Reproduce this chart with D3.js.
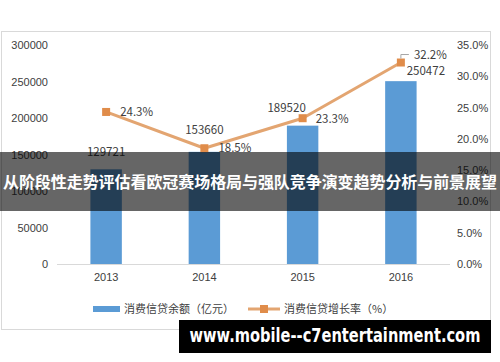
<!DOCTYPE html>
<html>
<head>
<meta charset="utf-8">
<script src="https://cdn.jsdelivr.net/npm/d3@7"></script>
<style>
  html, body { margin: 0; padding: 0; background: #fff; }
  svg { display: block; font-family: 'Noto Sans CJK SC', 'Noto Sans', sans-serif; }
</style>
</head>
<body>
<svg width="500" height="362"></svg>
<script>
const years = ['2013', '2014', '2015', '2016']
const balance = [129721, 153660, 189520, 250472]
const growth = [24.3, 18.5, 23.3, 32.2]
const leftTicks = [0, 50000, 100000, 150000, 200000, 250000, 300000]
const rightTicks = [0, 5, 10, 15, 20, 25, 30, 35]
const legendLabels = ['消费信贷余额（亿元）', '消费信贷增长率（%）']
const title = '从阶段性走势评估看欧冠赛场格局与强队竞争演变趋势分析与前景展望'
const watermark = 'www.mobile--c7entertainment.com'

const svg = d3.select('svg')

// outer chart frame
svg.append('rect')
  .attr('x', 1.5).attr('y', 31.5)
  .attr('width', 489).attr('height', 298)
  .attr('fill', '#fff')
  .attr('stroke', '#d9d9d9')

const x = d3.scaleBand().domain(years).range([57, 450]).paddingInner(0.68).paddingOuter(0.34)
const yL = d3.scaleLinear().domain([0, 300000]).range([264, 45])
const yR = d3.scaleLinear().domain([0, 35]).range([264, 45])

// left axis
svg.append('g')
  .attr('transform', 'translate(50,0)')
  .call(d3.axisLeft(yL).tickValues(leftTicks).tickSize(0).tickPadding(2).tickFormat(d3.format('d')))
  .call(g => g.select('.domain').remove())
  .selectAll('text').attr('font-size', 11).attr('fill', '#404040').attr('font-family', null)

// right axis
svg.append('g')
  .attr('transform', 'translate(455,0)')
  .call(d3.axisRight(yR).tickValues(rightTicks).tickSize(0).tickPadding(2).tickFormat(d => d.toFixed(1) + '%'))
  .call(g => g.select('.domain').remove())
  .selectAll('text').attr('font-size', 11).attr('fill', '#404040').attr('font-family', null)

// bars
svg.append('g').selectAll('rect')
  .data(balance)
  .join('rect')
  .attr('x', (d, i) => x(years[i]))
  .attr('y', d => yL(d))
  .attr('width', x.bandwidth())
  .attr('height', d => yL(0) - yL(d))
  .attr('fill', '#5b9bd5')

// baseline
svg.append('line')
  .attr('x1', 57).attr('x2', 450)
  .attr('y1', yL(0) + 0.5).attr('y2', yL(0) + 0.5)
  .attr('stroke', '#d9d9d9')

// x axis labels
svg.append('g')
  .attr('transform', `translate(0,${yL(0)})`)
  .call(d3.axisBottom(x).tickSize(0).tickPadding(9))
  .call(g => g.select('.domain').remove())
  .selectAll('text').attr('font-size', 11).attr('fill', '#404040').attr('font-family', null)

// growth line
const cx = (d, i) => x(years[i]) + x.bandwidth() / 2
const line = d3.line().x(cx).y(d => yR(d))
svg.append('path')
  .datum(growth)
  .attr('d', line)
  .attr('fill', 'none')
  .attr('stroke', '#e3a571')
  .attr('stroke-width', 3)
  .attr('stroke-linejoin', 'round')

svg.append('g').selectAll('rect')
  .data(growth)
  .join('rect')
  .attr('x', (d, i) => cx(d, i) - 4)
  .attr('y', d => yR(d) - 4)
  .attr('width', 8).attr('height', 8)
  .attr('fill', '#e08c4a')

// balance labels (offsets mimic Excel placement)
const balOffset = [[0, -13], [0, -18], [-16, -14], [25, -6]]
svg.append('g').selectAll('text')
  .data(balance)
  .join('text')
  .attr('x', (d, i) => cx(d, i) + balOffset[i][0])
  .attr('y', (d, i) => yL(d) + balOffset[i][1])
  .attr('text-anchor', 'middle')
  .attr('font-size', 11.5)
  .attr('fill', '#404040')
  .text(d => d)

// growth labels
const grOffset = [[14, 4], [14, 4], [13, 5], [13, -4]]
svg.append('g').selectAll('text')
  .data(growth)
  .join('text')
  .attr('x', (d, i) => cx(d, i) + grOffset[i][0])
  .attr('y', (d, i) => yR(d) + grOffset[i][1])
  .attr('font-size', 11.5)
  .attr('fill', '#404040')
  .text(d => d.toFixed(1) + '%')

// leader line for last label
svg.append('path')
  .attr('d', `M${cx(0, 3)},${yR(growth[3]) - 4}V${yR(growth[3]) - 8}h8`)
  .attr('fill', 'none')
  .attr('stroke', '#a6a6a6')

// legend
const lg = svg.append('g').attr('transform', 'translate(0,309)')
lg.append('rect').attr('x', 93).attr('y', -3).attr('width', 27).attr('height', 6).attr('fill', '#5b9bd5')
lg.append('text').attr('x', 124).attr('y', 4).attr('font-size', 11).attr('fill', '#404040').text(legendLabels[0])
lg.append('line').attr('x1', 248).attr('x2', 280).attr('stroke', '#e3a571').attr('stroke-width', 3)
lg.append('rect').attr('x', 260).attr('y', -4).attr('width', 8).attr('height', 8).attr('fill', '#e08c4a')
lg.append('text').attr('x', 284).attr('y', 4).attr('font-size', 11).attr('fill', '#404040').text(legendLabels[1])

// title banner
svg.append('rect')
  .attr('x', 0).attr('y', 152)
  .attr('width', 500).attr('height', 59)
  .attr('fill', 'rgba(0,0,0,0.6)')
svg.append('text')
  .attr('x', 250).attr('y', 188)
  .attr('text-anchor', 'middle')
  .attr('font-size', 16)
  .attr('font-weight', 'bold')
  .attr('fill', '#fff')
  .attr('textLength', 494)
  .text(title)

// watermark: squeeze horizontally to the box instead of using textLength
svg.append('rect')
  .attr('x', 179).attr('y', 320)
  .attr('width', 312).attr('height', 33)
  .attr('fill', '#000')
const wm = svg.append('text')
  .attr('text-anchor', 'middle')
  .attr('font-size', 19)
  .attr('font-weight', 'bold')
  .attr('font-family', "'DejaVu Sans', sans-serif")
  .attr('fill', '#fff')
  .text(watermark)
const wmWidth = wm.node().getComputedTextLength()
const sx = Math.min(1, 291 / wmWidth)
wm.attr('transform', `translate(335,342) scale(${sx},1)`)
</script>
</body>
</html>
